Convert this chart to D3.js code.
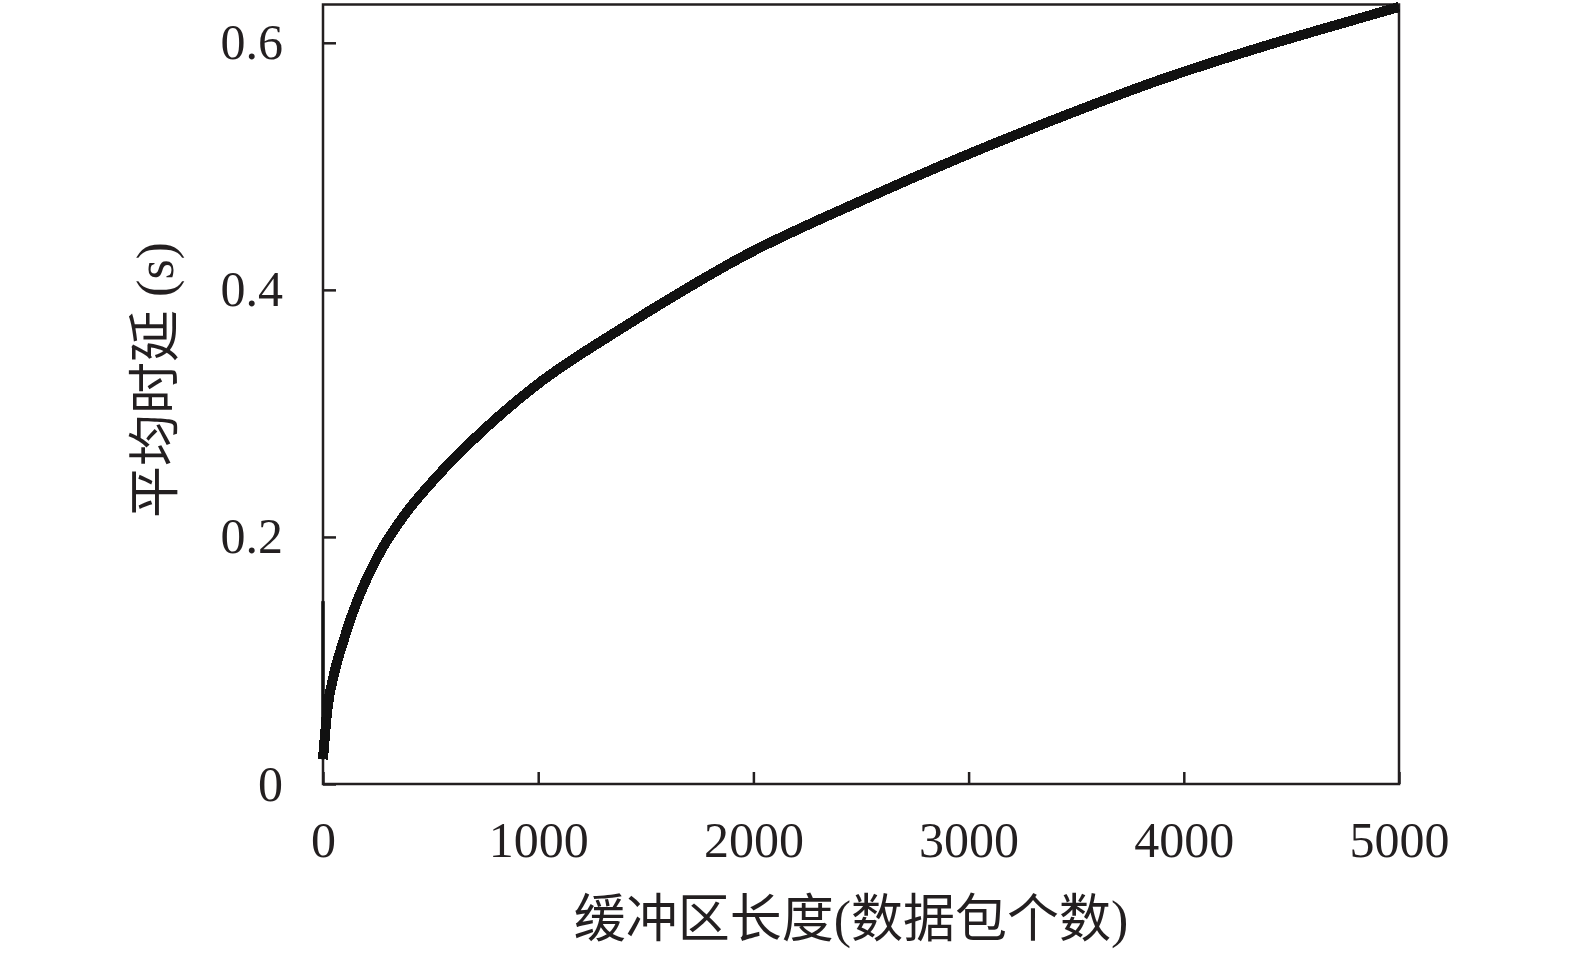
<!DOCTYPE html>
<html>
<head>
<meta charset="utf-8">
<script src="https://cdn.jsdelivr.net/npm/d3@7"></script>
<style>
  html, body { margin: 0; padding: 0; background: #fff; }
  svg { display: block; }
  .tick text { font-family: "Liberation Serif", "Times New Roman", serif; font-size: 50px; fill: #231f20; }
  .label { font-family: "Liberation Serif", "Noto Sans CJK SC", serif; font-size: 52px; fill: #231f20; }
</style>
</head>
<body>
<div id="chart"></div>
<script>
  // buffer length (packets) vs. mean delay (s)
  var bufferLen = [0, 20, 50, 90, 135, 185, 280, 380, 530, 730, 1000, 1380, 1660, 1940, 2500, 2960, 3430, 3890, 4350, 4700, 5000];
  var meanDelay = [0.020, 0.060, 0.088, 0.113, 0.137, 0.159, 0.192, 0.218, 0.249, 0.284, 0.324, 0.368, 0.398, 0.426, 0.472, 0.507, 0.540, 0.570, 0.596, 0.614, 0.629];

  // thin start-up spike drawn on the y axis
  var spikeX = [0, 0];
  var spikeY = [0.020, 0.148];

  var xTicks = [0, 1000, 2000, 3000, 4000, 5000];
  var yTicks = [0, 0.2, 0.4, 0.6];
  var xTitle = '缓冲区长度(数据包个数)';
  var yTitle = '平均时延 (s)';

  var W = 1575, H = 955;
  var margin = { top: 4.5, right: 176, bottom: 171, left: 323 };
  var iw = W - margin.left - margin.right;
  var ih = H - margin.top - margin.bottom;

  var svg = d3.select('#chart').append('svg')
    .attr('width', W)
    .attr('height', H);

  var g = svg.append('g')
    .attr('transform', 'translate(' + margin.left + ',' + margin.top + ')');

  var x = d3.scaleLinear().domain([0, 5000]).range([0, iw]);
  var y = d3.scaleLinear().domain([0, 0.631]).range([ih, 0]);

  var fmtY = function (d) { return d === 0 ? '0' : d3.format('.1f')(d); };

  var xAxis = g.append('g')
    .attr('transform', 'translate(0,' + ih + ')')
    .call(d3.axisBottom(x).tickValues(xTicks).tickSize(-12).tickSizeOuter(0).tickPadding(37).tickFormat(d3.format('d')));

  var yAxis = g.append('g')
    .call(d3.axisLeft(y).tickValues(yTicks).tickSize(-13).tickSizeOuter(0).tickPadding(40).tickFormat(fmtY));

  [xAxis, yAxis].forEach(function (a) {
    a.select('.domain').remove();
    a.selectAll('.tick line').attr('stroke', '#231f20').attr('stroke-width', 2.5);
  });

  // frame
  g.append('rect')
    .attr('x', 0)
    .attr('y', 0)
    .attr('width', iw)
    .attr('height', ih)
    .attr('fill', 'none')
    .attr('stroke', '#231f20')
    .attr('stroke-width', 2.5);

  var line = d3.line()
    .x(function (d) { return x(d[0]); })
    .y(function (d) { return y(d[1]); })
    .curve(d3.curveMonotoneX);

  g.append('path')
    .datum(spikeX.map(function (v, i) { return [v, spikeY[i]]; }))
    .attr('d', d3.line().x(function (d) { return x(d[0]); }).y(function (d) { return y(d[1]); }))
    .attr('fill', 'none')
    .attr('stroke', '#111')
    .attr('stroke-width', 3.5);

  g.append('path')
    .datum(bufferLen.map(function (v, i) { return [v, meanDelay[i]]; }))
    .attr('d', line)
    .attr('fill', 'none')
    .attr('stroke', '#111')
    .attr('stroke-width', 10)
    .attr('stroke-linejoin', 'round')
    .attr('shape-rendering', 'crispEdges');

  svg.append('text')
    .attr('class', 'label')
    .attr('x', 851)
    .attr('y', 937)
    .attr('text-anchor', 'middle')
    .text(xTitle);

  svg.append('text')
    .attr('class', 'label')
    .attr('transform', 'translate(173,380) rotate(-90)')
    .attr('text-anchor', 'middle')
    .text(yTitle);
</script>
</body>
</html>
